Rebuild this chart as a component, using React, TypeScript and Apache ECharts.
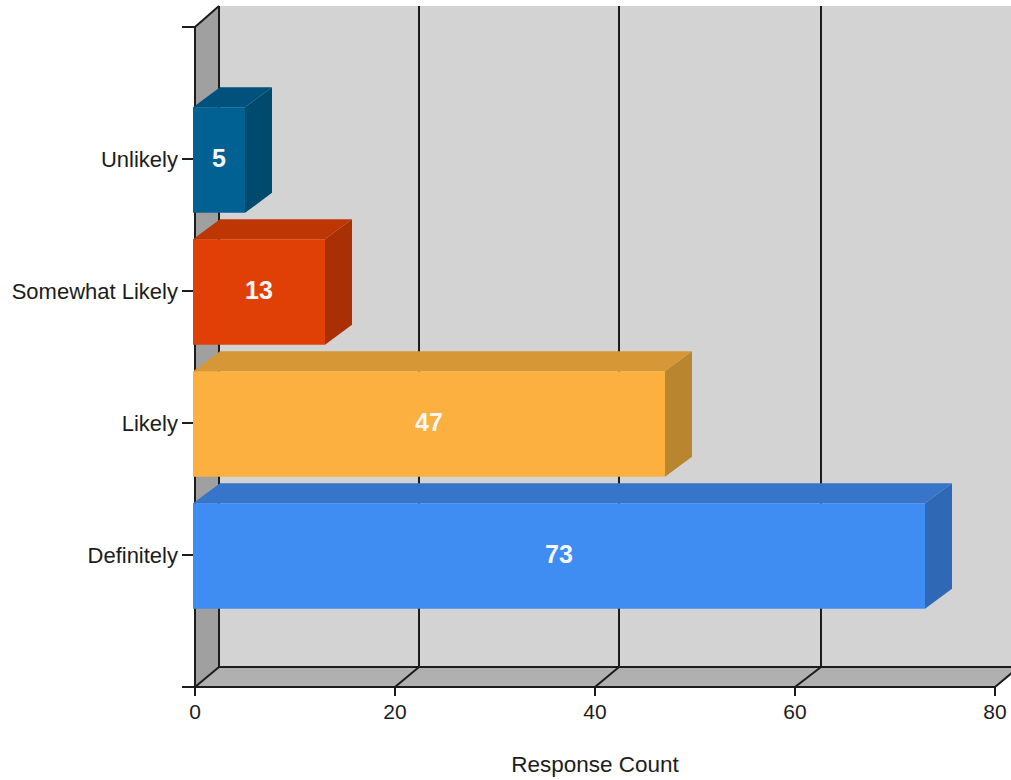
import React, { useEffect, useRef } from "react";
import * as echarts from "echarts";

const yCategories = ["", "Definitely", "Likely", "Somewhat Likely", "Unlikely", ""];
const barCategoryIndex = [4, 3, 2, 1];
const barValues = [5, 13, 47, 73];
const frontColors = ["#006192", "#e04006", "#fbb040", "#3f8cf3"];
const topColors = ["#00527c", "#bf3605", "#d69836", "#3675ca"];
const sideColors = ["#004a6e", "#a83004", "#b9862f", "#2f69b6"];
const xTicks = [0, 20, 40, 60, 80];
const backShift = [24, 24, 24, 26, 24];

const DEPTH_X = 24;
const DEPTH_Y = 20;
const INK = "#1c1c1c";

const line = (x1: number, y1: number, x2: number, y2: number) => ({
  type: "line",
  shape: { x1, y1, x2, y2 },
  style: { stroke: INK, lineWidth: 2 },
});

const poly = (points: number[][], fill: string) => ({
  type: "polygon",
  shape: { points },
  style: { fill },
});

const renderWalls = (_: any, api: any) => {
  const [x0, bottom] = api.coord([0, 0]);
  const [x80, top] = api.coord([80, 5]);
  const right = x80 + DEPTH_X;
  const children: any[] = [
    {
      type: "rect",
      shape: { x: x0 + DEPTH_X, y: top - DEPTH_Y - 1, width: right - x0 - DEPTH_X, height: bottom - top + 1 },
      style: { fill: "#d3d3d3" },
    },
    poly([[x0, top], [x0 + DEPTH_X, top - DEPTH_Y - 1], [x0 + DEPTH_X, bottom - DEPTH_Y], [x0, bottom]], "#a0a0a0"),
    poly([[x0, bottom], [x0 + DEPTH_X, bottom - DEPTH_Y], [right, bottom - DEPTH_Y], [x80, bottom]], "#b0b0b0"),
    line(x0 + DEPTH_X, bottom - DEPTH_Y, right, bottom - DEPTH_Y),
    line(x0, top, x0 + DEPTH_X, top - DEPTH_Y - 1),
  ];
  xTicks.forEach((t, i) => {
    const x = api.coord([t, 0])[0];
    const bx = x + backShift[i];
    children.push(line(x, bottom, bx, bottom - DEPTH_Y));
    children.push(line(bx, bottom - DEPTH_Y, bx, top - DEPTH_Y - 1));
  });
  return { type: "group", children };
};

const renderBar = (params: any, api: any) => {
  const i = params.dataIndex;
  const value = api.value(0);
  const [xEnd, yMid] = api.coord([value, api.value(1)]);
  const x0 = api.coord([0, 0])[0] - 2;
  const h = api.size([0, 1])[1] * 0.8;
  const y1 = yMid - h / 2 + 1;
  const y2 = yMid + h / 2 + 1;
  const dx = 27;
  const dy = 20;
  return {
    type: "group",
    children: [
      poly([[x0, y1], [x0 + dx, y1 - dy], [xEnd + dx, y1 - dy], [xEnd, y1]], topColors[i]),
      poly([[xEnd, y1], [xEnd + dx, y1 - dy], [xEnd + dx, y2 - dy], [xEnd, y2]], sideColors[i]),
      { type: "rect", shape: { x: x0, y: y1, width: xEnd - x0, height: h }, style: { fill: frontColors[i] } },
      {
        type: "text",
        style: {
          x: (x0 + xEnd) / 2,
          y: yMid - 1,
          text: String(value),
          fill: "#f4f6f8",
          font: "bold 25px 'Liberation Sans'",
          align: "center",
          verticalAlign: "middle",
        },
      },
    ],
  };
};

export default function App() {
  const ref = useRef<HTMLDivElement>(null);
  useEffect(() => {
    const chart = echarts.init(ref.current!, undefined, { renderer: "svg" });
    chart.setOption({
      animation: false,
      backgroundColor: "#ffffff",
      grid: { left: 195, top: 27, width: 800, height: 660, containLabel: false, outerBoundsMode: "none" },
      textStyle: { fontFamily: "'Liberation Sans'" },
      xAxis: {
        type: "value",
        min: 0,
        max: 80,
        interval: 20,
        name: "Response Count",
        nameLocation: "middle",
        nameGap: 66,
        nameTextStyle: { fontSize: 22.5, color: "#1c1c1c", fontFamily: "'Liberation Sans'" },
        axisLine: { show: true, lineStyle: { color: INK, width: 2 } },
        axisTick: { show: true, length: 9, lineStyle: { color: INK, width: 2 } },
        axisLabel: { show: true, fontSize: 21, color: "#1c1c1c", margin: 14, hideOverlap: false, fontFamily: "'Liberation Sans'" },
        splitLine: { show: false },
      },
      yAxis: {
        type: "category",
        data: yCategories,
        boundaryGap: false,
        axisLine: { show: true, lineStyle: { color: INK, width: 2 } },
        axisTick: { show: true, length: 13, alignWithLabel: true, interval: 0, lineStyle: { color: INK, width: 2 } },
        axisLabel: { show: true, interval: 0, fontSize: 22, color: "#1c1c1c", margin: 17, fontFamily: "'Liberation Sans'" },
        splitLine: { show: false },
      },
      series: [
        {
          type: "custom",
          z: -1,
          renderItem: renderWalls,
          encode: { x: 0, y: 1 },
          data: [[0, 0]],
          silent: true,
        },
        {
          type: "custom",
          z: 3,
          renderItem: renderBar,
          encode: { x: 0, y: 1 },
          data: barValues.map((v, i) => [v, barCategoryIndex[i]]),
        },
      ],
    });
    return () => chart.dispose();
  }, []);
  return (
    <div
      ref={ref}
      style={{ position: "absolute", left: 0, top: 0, width: 1011, height: 780, overflow: "hidden" }}
    />
  );
}
